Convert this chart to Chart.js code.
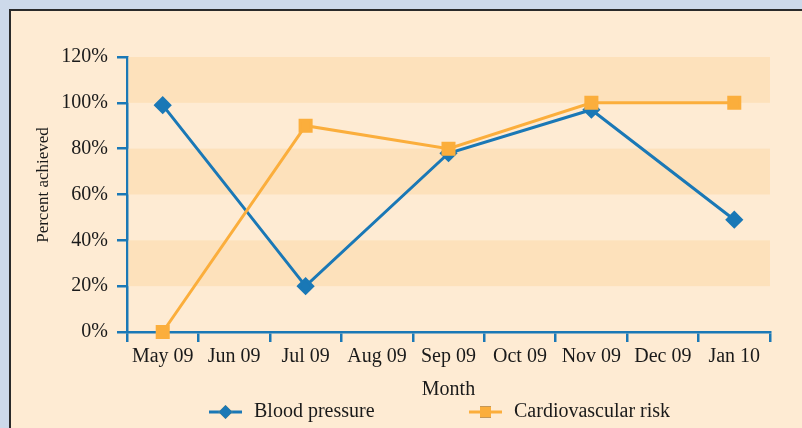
<!DOCTYPE html>
<html>
<head>
<meta charset="utf-8">
<script src="https://cdn.jsdelivr.net/npm/chart.js@4"></script>
<style>
  html, body { margin: 0; padding: 0; }
  body { width: 802px; height: 428px; background: #cdd9ea; overflow: hidden; position: relative; }
  #panel {
    position: absolute; left: 9px; top: 9px; width: 793px; height: 419px;
    background: #feebd3; border-left: 2px solid #2a2a2a; border-top: 2px solid #2a2a2a;
  }
  #wrap { position: absolute; left: 0; top: 0; width: 793px; height: 419px; }
</style>
</head>
<body>
<div id="panel"><div id="wrap"><canvas id="chart"></canvas></div></div>
<script>
document.addEventListener("DOMContentLoaded", function () {
    // months on the x axis, readings only every second month
    const months = ["May 09", "Jun 09", "Jul 09", "Aug 09", "Sep 09", "Oct 09", "Nov 09", "Dec 09", "Jan 10"];
    const bloodPressure = [99, null, 20, null, 78, null, 97, null, 49];
    const cardioRisk = [0, null, 90, null, 80, null, 100, null, 100];
    const yTicks = [0, 20, 40, 60, 80, 100, 120];

    const blue = "#1a78b6";
    const orange = "#fbae3c";
    const bandColor = "#fde1bb";
    const serif = "'Liberation Serif', 'DejaVu Serif', serif";

    // shaded horizontal bands (100-120, 60-80, 20-40)
    const bandsPlugin = {
        id: "bands",
        beforeDatasetsDraw(chart) {
            const { ctx, chartArea, scales } = chart;
            ctx.save();
            ctx.fillStyle = bandColor;
            const left = chartArea.left + 1.5; // keep the axis line visible
            for (let i = 1; i < yTicks.length - 1; i += 2) {
                const top = scales.y.getPixelForValue(yTicks[i + 1]);
                const bottom = scales.y.getPixelForValue(yTicks[i]);
                ctx.fillRect(left, top, chartArea.right - left, bottom - top);
            }
            ctx.restore();
        },
    };

    // y title and a line + marker legend, like the original figure
    const legendPlugin = {
        id: "lineLegend",
        afterDraw(chart) {
            const { ctx } = chart;
            ctx.save();
            ctx.fillStyle = "#1a1a1a";
            ctx.font = "17px " + serif;
            ctx.textAlign = "center";
            ctx.textBaseline = "middle";
            ctx.translate(33, 174);
            ctx.rotate(-Math.PI / 2);
            ctx.fillText("Percent achieved", 0, 0);
            ctx.restore();

            const items = [
                { x: 198, ds: chart.data.datasets[0] },
                { x: 458, ds: chart.data.datasets[1] },
            ];
            const y = 401;
            ctx.save();
            items.forEach(function (it) {
                ctx.strokeStyle = it.ds.borderColor;
                ctx.lineWidth = 3;
                ctx.beginPath();
                ctx.moveTo(it.x, y);
                ctx.lineTo(it.x + 33, y);
                ctx.stroke();
                Chart.helpers.drawPoint(ctx, {
                    pointStyle: it.ds.pointStyle,
                    radius: it.ds.pointRadius,
                    rotation: 0,
                    borderWidth: 0,
                }, it.x + 16.5, y);
                ctx.fillStyle = it.ds.borderColor;
                ctx.fill();
                ctx.fillStyle = "#1a1a1a";
                ctx.font = "20px " + serif;
                ctx.textBaseline = "middle";
                ctx.fillText(it.ds.label, it.x + 45, y);
            });
            ctx.restore();
        },
    };

    const ctx = document.getElementById("chart").getContext("2d");

    new Chart(ctx, {
        type: "line",
        data: {
            labels: months,
            datasets: [
                {
                    label: "Blood pressure",
                    data: bloodPressure,
                    borderColor: blue,
                    backgroundColor: blue,
                    borderWidth: 3,
                    pointStyle: "rectRot",
                    pointRadius: 7,
                    pointHoverRadius: 7,
                    spanGaps: true,
                    tension: 0,
                    clip: false,
                    order: 2,
                },
                {
                    label: "Cardiovascular risk",
                    data: cardioRisk,
                    borderColor: orange,
                    backgroundColor: orange,
                    borderWidth: 3,
                    pointStyle: "rect",
                    pointRadius: 7.8,
                    pointHoverRadius: 7.8,
                    spanGaps: true,
                    tension: 0,
                    clip: false,
                    order: 1,
                },
            ],
        },
        options: {
            responsive: true,
            maintainAspectRatio: false,
            animation: false,
            layout: { padding: { left: 20, right: 34, top: 46, bottom: 25 } },
            scales: {
                x: {
                    type: "category",
                    offset: true,
                    afterFit(scale) { scale.height = 73; },
                    grid: {
                        offset: true,
                        drawOnChartArea: false,
                        color: blue,
                        lineWidth: 2.5,
                        tickLength: 10,
                    },
                    border: { color: blue, width: 2.5 },
                    ticks: {
                        color: "#1a1a1a",
                        font: { family: serif, size: 20 },
                        maxRotation: 0,
                        autoSkip: false,
                        padding: 3,
                    },
                    title: {
                        display: true,
                        text: "Month",
                        color: "#1a1a1a",
                        font: { family: serif, size: 20 },
                        padding: { top: 2, bottom: 3 },
                    },
                },
                y: {
                    min: 0,
                    max: 120,
                    afterFit(scale) { scale.width = 96; },
                    afterBuildTicks(scale) {
                        scale.ticks = yTicks.map(function (v) { return { value: v }; });
                    },
                    grid: {
                        drawOnChartArea: false,
                        color: blue,
                        lineWidth: 2.5,
                        tickLength: 10,
                    },
                    border: { color: blue, width: 2.5 },
                    ticks: {
                        color: "#1a1a1a",
                        font: { family: serif, size: 20 },
                        padding: 9,
                        callback: function (v) { return v + "%"; },
                    },
                },
            },
            plugins: {
                legend: { display: false },
                tooltip: { enabled: false },
            },
        },
        plugins: [bandsPlugin, legendPlugin],
    });
});
</script>
</body>
</html>
